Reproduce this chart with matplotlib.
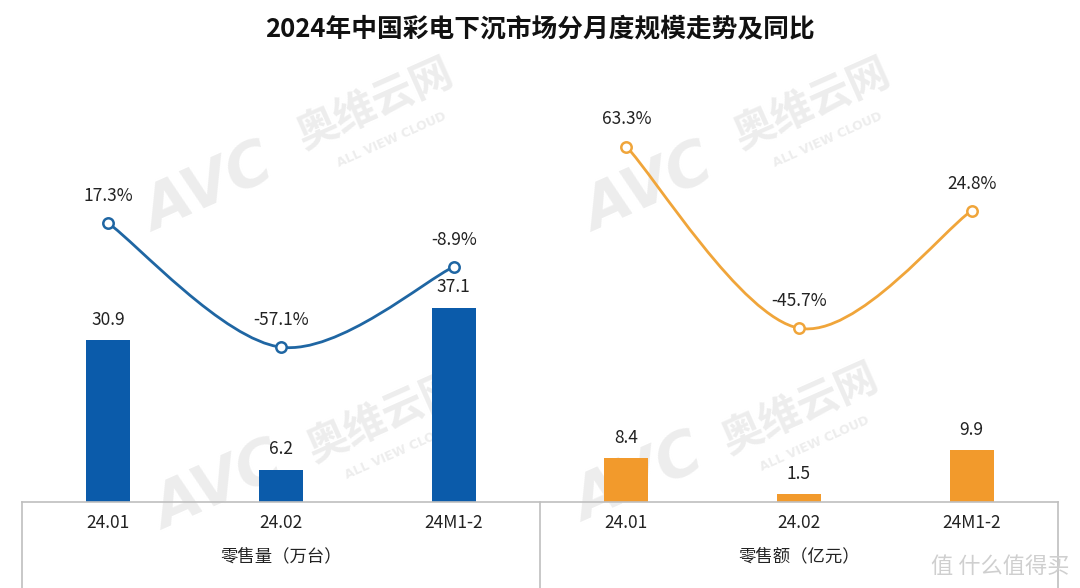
import matplotlib
matplotlib.use("Agg")
import matplotlib.pyplot as plt
import matplotlib.transforms as mtransforms
from matplotlib.path import Path
from matplotlib.patches import PathPatch

plt.rcParams['font.family'] = ['Noto Sans CJK SC', 'DejaVu Sans']

# ---- 数据 ----
title = "2024年中国彩电下沉市场分月度规模走势及同比"
months = ["24.01", "24.02", "24M1-2"]
groups = ["零售量（万台）", "零售额（亿元）"]
volume = [30.9, 6.2, 37.1]          # 零售量(万台)
volume_yoy = [17.3, -57.1, -8.9]    # 同比 %
revenue = [8.4, 1.5, 9.9]           # 零售额(亿元)
revenue_yoy = [63.3, -45.7, 24.8]   # 同比 %

BLUE_BAR, BLUE_LINE = "#0B5BAA", "#1F66A3"
ORANGE_BAR, ORANGE_LINE = "#F29A2C", "#F0A53A"
GRID = "#BFBFBF"


def smooth_path(xs, ys):
    """类似 Excel 平滑线:Catmull-Rom 转三次贝塞尔"""
    pts = list(zip(xs, ys))
    n = len(pts)
    verts, codes = [pts[0]], [Path.MOVETO]
    for i in range(n - 1):
        p0 = pts[max(i - 1, 0)]
        p1, p2 = pts[i], pts[i + 1]
        p3 = pts[min(i + 2, n - 1)]
        c1 = (p1[0] + (p2[0] - p0[0]) / 6, p1[1] + (p2[1] - p0[1]) / 6)
        c2 = (p2[0] - (p3[0] - p1[0]) / 6, p2[1] - (p3[1] - p1[1]) / 6)
        verts += [c1, c2, p2]
        codes += [Path.CURVE4] * 3
    return Path(verts, codes)


W, H = 1080, 588
fig = plt.figure(figsize=(W / 100, H / 100), dpi=100)
ax = fig.add_axes([22 / W, 86 / H, 1036 / W, 402 / H])
ax2 = ax.twinx()
ax.patch.set_alpha(0)
ax2.patch.set_alpha(0)

# 水印(画在坐标轴下面)
wm = dict(color="#EDEDED", rotation=24, ha="center", va="center", zorder=-5)
for (ax_, ay), (cx, cy), (lx, ly) in [((210, 190), (375, 105), (392, 140)),
                                      ((650, 190), (812, 105), (828, 140)),
                                      ((220, 488), (385, 418), (400, 452)),
                                      ((640, 480), (800, 410), (815, 444))]:
    fig.text(ax_ / W, 1 - ay / H, "AVC", fontsize=44, fontweight="bold",
             style="italic", family="DejaVu Sans", **wm)
    fig.text(cx / W, 1 - cy / H, "奥维云网", fontsize=30, fontweight="bold", **wm)
    fig.text(lx / W, 1 - ly / H, "ALL VIEW CLOUD", fontsize=9,
             fontweight="bold", family="DejaVu Sans", **wm)

xs_left = [0, 1, 2]
xs_right = [3, 4, 5]

ax.bar(xs_left, volume, width=0.255, color=BLUE_BAR, zorder=2)
ax.bar(xs_right, revenue, width=0.255, color=ORANGE_BAR, zorder=2)
for x, v in zip(xs_left + xs_right, volume + revenue):
    ax.annotate(f"{v:.1f}", (x, v), xytext=(0, 14.5), textcoords="offset points",
                ha="center", va="center", fontsize=12.5, color="#222222")

for xs, ys, c in [(xs_left, volume_yoy, BLUE_LINE),
                  (xs_right, revenue_yoy, ORANGE_LINE)]:
    ax2.add_patch(PathPatch(smooth_path(xs, ys), facecolor="none",
                            edgecolor=c, lw=2.0, zorder=3))
    ax2.plot(xs, ys, "o", ms=7.5, mfc="white", mec=c, mew=1.8, zorder=4)
    for x, v in zip(xs, ys):
        ax2.annotate(f"{v:.1f}%", (x, v), xytext=(0, 19.5),
                     textcoords="offset points", ha="center", va="center",
                     fontsize=12.5, color="#222222")

ax.set_xlim(-0.5, 5.5)
ax.set_ylim(0, 402 / 5.24)
ax2.set_ylim(-150, 91.2)

for a in (ax, ax2):
    for s in a.spines.values():
        s.set_visible(False)
    a.set_yticks([])
ax.set_xticks(xs_left + xs_right)
ax.set_xticklabels(months * 2, fontsize=12.5, color="#222222")
ax.tick_params(axis="x", length=0, pad=9)

# 底部多级分类坐标
trans = mtransforms.blended_transform_factory(ax.transData, ax.transAxes)
ax.plot([-0.5, 5.5], [0, 0], transform=trans, color=GRID, lw=1.2,
        clip_on=False, zorder=5)
for x in (-0.5, 2.5, 5.5):
    ax.plot([x, x], [0, -0.215], transform=trans, color=GRID, lw=1.2,
            clip_on=False)
for x, g in zip((1, 4), groups):
    ax.text(x, -0.135, g, transform=trans, ha="center", va="center",
            fontsize=12.5, color="#222222")

fig.text(0.5, 1 - 30 / H, title, ha="center", va="center",
         fontsize=18.5, fontweight="bold", color="#111111")
fig.text(1000 / W, 1 - 566 / H, "值 什么值得买", ha="center", va="center",
         fontsize=16, color="#CFCFCF")

fig.savefig("out.png", dpi=100)
